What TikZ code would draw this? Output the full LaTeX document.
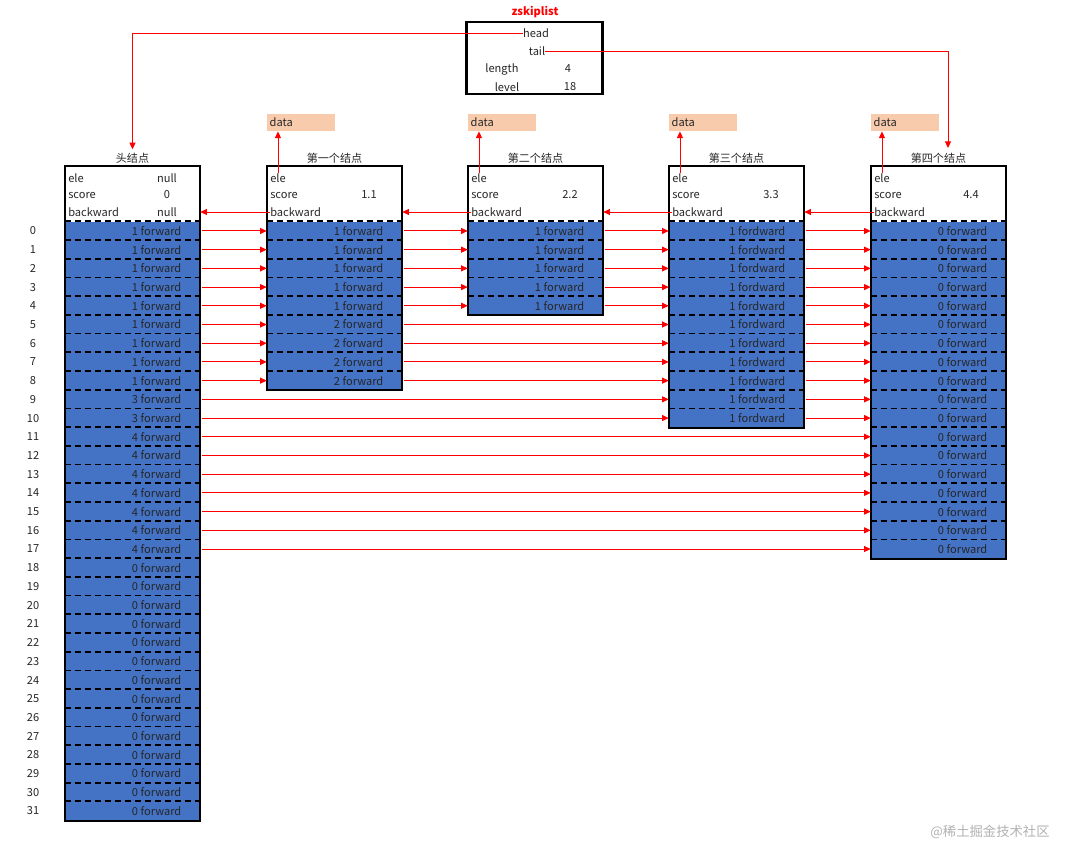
\documentclass[tikz,border=0pt]{standalone}
\usepackage{fontspec}
\setmainfont{Noto Sans CJK SC}
\usetikzlibrary{arrows.meta}
\definecolor{rowblue}{HTML}{4472C4}
\definecolor{dataor}{HTML}{F8CBAD}
\definecolor{txtg}{HTML}{262626}
\begin{document}
\begin{tikzpicture}[x=0.75pt,y=-0.75pt,font=\fontsize{8.3}{9}\selectfont,text=txtg,
  rowbox/.style={fill=rowblue,draw=none,minimum width=101.25pt,minimum height=14.03pt,inner sep=0pt},
  hdr/.style={fill=white,draw=none,minimum width=101.25pt,minimum height=41.7pt,inner sep=0pt},
  dashln/.style={dashed,line width=1.3pt,dash pattern=on 5pt off 2.5pt},
  boxln/.style={line width=1.5pt},
  arr/.style={red,line width=0.7pt,-{Triangle[length=5pt,width=4.5pt]}},
  databox/.style={fill=dataor,minimum width=51pt,minimum height=13pt,inner sep=2pt,text width=47pt,align=left},
  txt/.style={inner sep=0pt}]
\fill[white] (0,0) rectangle (1075,850);
\useasboundingbox (0,0) rectangle (1075,850);
\newcommand\mkcol[4]{%
  \node[hdr] (#1) at (#2+67.5,193.8) {};
  \node[txt,anchor=south] (#1-lab) at (#2+67.5,164) {#3};
  \foreach \t [count=\k from 0] in {#4} {
    \node[rowbox] (#1-\k) at (#2+67.5,230.95+18.71*\k) {};
    \node[txt,anchor=east] at ([xshift=-14pt]#1-\k.east) {\t};
    \draw[dashln] (#1-\k.north west) -- (#1-\k.north east);
    \xdef\lastk{\k}
  }
  \draw[boxln] (#1.north west) rectangle (#1-\lastk.south east);
  \node[txt,anchor=west] (#1-ele) at (#2+3,178) {ele};
  \node[txt,anchor=west] (#1-sc) at (#2+3,195) {score};
  \node[txt,anchor=west] (#1-bw) at (#2+3,212) {backward};
}
% head node
\mkcol{h}{65}{头结点}{1 forward,1 forward,1 forward,1 forward,1 forward,1 forward,1 forward,1 forward,1 forward,3 forward,3 forward,4 forward,4 forward,4 forward,4 forward,4 forward,4 forward,4 forward,0 forward,0 forward,0 forward,0 forward,0 forward,0 forward,0 forward,0 forward,0 forward,0 forward,0 forward,0 forward,0 forward,0 forward}
\node[txt] (h-elev) at (167,178) {null};
\node[txt] (h-scv) at (167,195) {0};
\node[txt] (h-bwv) at (167,212) {null};
\mkcol{a}{267}{第一个结点}{1 forward,1 forward,1 forward,1 forward,1 forward,2 forward,2 forward,2 forward,2 forward}
\node[txt] (a-scv) at (369,195) {1.1};
\mkcol{b}{468}{第二个结点}{1 forward,1 forward,1 forward,1 forward,1 forward}
\node[txt] (b-scv) at (570,195) {2.2};
\mkcol{c}{669}{第三个结点}{1 fordward,1 fordward,1 fordward,1 fordward,1 fordward,1 fordward,1 fordward,1 fordward,1 fordward,1 fordward,1 fordward}
\node[txt] (c-scv) at (771,195) {3.3};
\mkcol{d}{871}{第四个结点}{0 forward,0 forward,0 forward,0 forward,0 forward,0 forward,0 forward,0 forward,0 forward,0 forward,0 forward,0 forward,0 forward,0 forward,0 forward,0 forward,0 forward,0 forward}
\node[txt] (d-scv) at (971,195) {4.4};
% level indices
\foreach \k in {0,...,31} \node[txt] (idx\k) at (33,230.95+18.71*\k) {\k};
% data boxes
\foreach \n/\x in {a/267,b/468,c/669,d/871} {
  \node[databox] (\n-d) at (\x+34,122.5) {data};
  \draw[arr] (\n-ele.north) -- (\n-ele.north |- \n-d.south);
}
% backward arrows
\foreach \s/\t in {a/h,b/a,c/b,d/c} \draw[arr] (\s-bw.west) -- (\t.east |- \s-bw.west);
% forward arrows
\foreach \i in {0,...,8} \draw[arr,shorten <=1pt] (h-\i.east) -- (a-\i.west);
\foreach \i in {9,10} \draw[arr,shorten <=1pt] (h-\i.east) -- (c-\i.west);
\foreach \i in {11,...,17} \draw[arr,shorten <=1pt] (h-\i.east) -- (d-\i.west);
\foreach \i in {0,...,4} \draw[arr,shorten <=1pt] (a-\i.east) -- (b-\i.west);
\foreach \i in {5,...,8} \draw[arr,shorten <=1pt] (a-\i.east) -- (c-\i.west);
\foreach \i in {0,...,4} \draw[arr,shorten <=1pt] (b-\i.east) -- (c-\i.west);
\foreach \i in {0,...,10} \draw[arr,shorten <=1pt] (c-\i.east) -- (d-\i.west);
% zskiplist
\node[draw,line width=2.2pt,minimum width=102pt,minimum height=54pt,inner sep=0pt] (z) at (534.5,58) {};
\node[txt,red,font=\fontsize{8.3}{9}\selectfont\bfseries] (ztitle) at (535,12) {zskiplist};
\node[txt] (zhead) at (536,33) {head};
\node[txt] (ztail) at (537,51) {tail};
\node[txt] (zlen) at (502,69) {length};
\node[txt] (zlenv) at (568,69) {4};
\node[txt] (zlev) at (507,87) {level};
\node[txt] (zlevv) at (570,87) {18};
\coordinate (tailend) at (948,148);
\draw[arr] (zhead.west) -| ([yshift=3pt]h-lab.north);
\draw[arr] (ztail.east) -| (tailend);
\node[txt,text=gray!60,font=\fontsize{10}{12}\selectfont] (wm) at (990,832) {@稀土掘金技术社区};
\end{tikzpicture}
\end{document}
